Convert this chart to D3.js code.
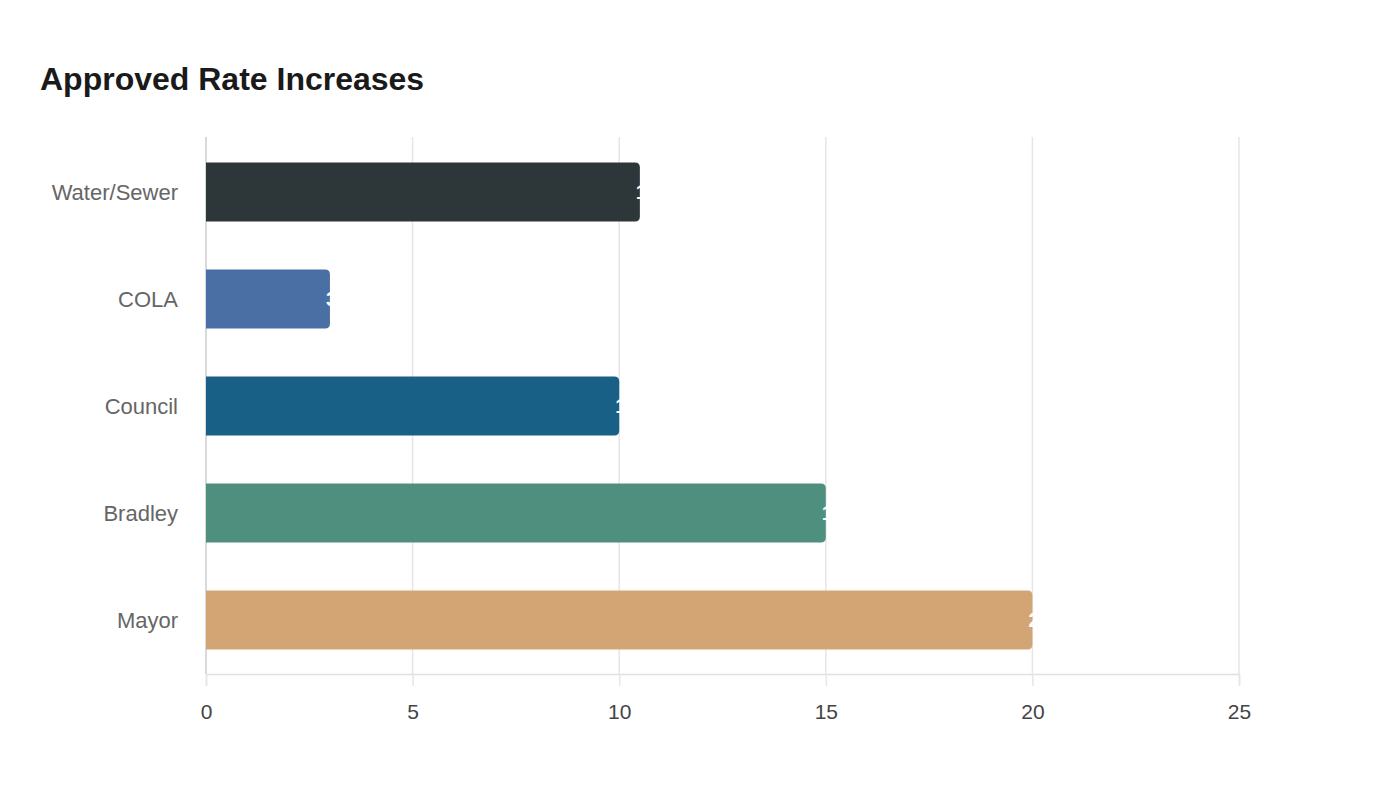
<!DOCTYPE html>
<html><head><meta charset="utf-8">
<script src="https://cdn.jsdelivr.net/npm/d3@7"></script>
<style>body{margin:0;background:#fff;font-family:"Liberation Sans",Arial,sans-serif;}</style>
</head><body>
<svg id="c" width="1400" height="800"></svg>
<script>
const categories = ["Water/Sewer","COLA","Council","Bradley","Mayor"];
const values = [10.5, 3, 10, 15, 20];
const colors = ["#2d3638","#4a6fa5","#186086","#4f8f7e","#d4a574"];
const xTicks = [0,5,10,15,20,25];

const svg = d3.select("#c");
const m = {left:206, right:1239, top:138.5, bottom:673.5};
const x = d3.scaleLinear().domain([0,25]).range([m.left,m.right]);
const y = d3.scaleBand().domain(categories).range([m.top,m.bottom]).paddingInner(0.45).paddingOuter(0.225);

svg.append("text").attr("x",40).attr("y",90).attr("font-size",32).attr("font-weight","bold")
  .attr("fill","#1a1a1a").text("Approved Rate Increases");

// grid
svg.append("g").selectAll("line").data(xTicks.slice(1)).join("line")
  .attr("x1",d=>x(d)).attr("x2",d=>x(d)).attr("y1",137).attr("y2",674)
  .attr("stroke","#e6e6e6").attr("stroke-width",1.5);

// x axis
const xa = svg.append("g").attr("transform",`translate(0,${674})`)
  .call(d3.axisBottom(x).tickValues(xTicks).tickSize(12).tickPadding(18));
xa.select(".domain").attr("stroke","#e0e0e0").attr("stroke-width",1.5);
xa.selectAll(".tick line").attr("stroke","#e6e6e6").attr("stroke-width",1.5);
xa.selectAll("text").attr("font-size",21).attr("fill","#444").attr("font-family","Liberation Sans, Arial, sans-serif");

// y axis line
svg.append("line").attr("x1",x(0)).attr("x2",x(0)).attr("y1",137).attr("y2",674)
  .attr("stroke","#cccccc").attr("stroke-width",1.5);

// y labels
svg.append("g").selectAll("text").data(categories).join("text")
  .attr("x",178).attr("y",d=>y(d)+y.bandwidth()/2).attr("dy","0.35em")
  .attr("text-anchor","end").attr("font-size",22).attr("fill","#666").text(d=>d);

// bars
const r = 5;
function barPath(d,i){
  const x0 = x(0), x1 = x(values[i]), y0 = y(d), h = y.bandwidth();
  return `M${x0},${y0}H${x1-r}Q${x1},${y0} ${x1},${y0+r}V${y0+h-r}Q${x1},${y0+h} ${x1-r},${y0+h}H${x0}Z`;
}
svg.append("g").selectAll("path").data(categories).join("path")
  .attr("d",barPath).attr("fill",(d,i)=>colors[i]);

// value labels (white, at bar end, mostly off the bar)
svg.append("g").selectAll("text").data(categories).join("text")
  .attr("x",(d,i)=>x(values[i])-4).attr("y",d=>y(d)+y.bandwidth()/2).attr("dy","0.35em")
  .attr("font-size",20).attr("font-weight","bold").attr("fill","#fff").text((d,i)=>values[i]);
</script>
</body></html>
